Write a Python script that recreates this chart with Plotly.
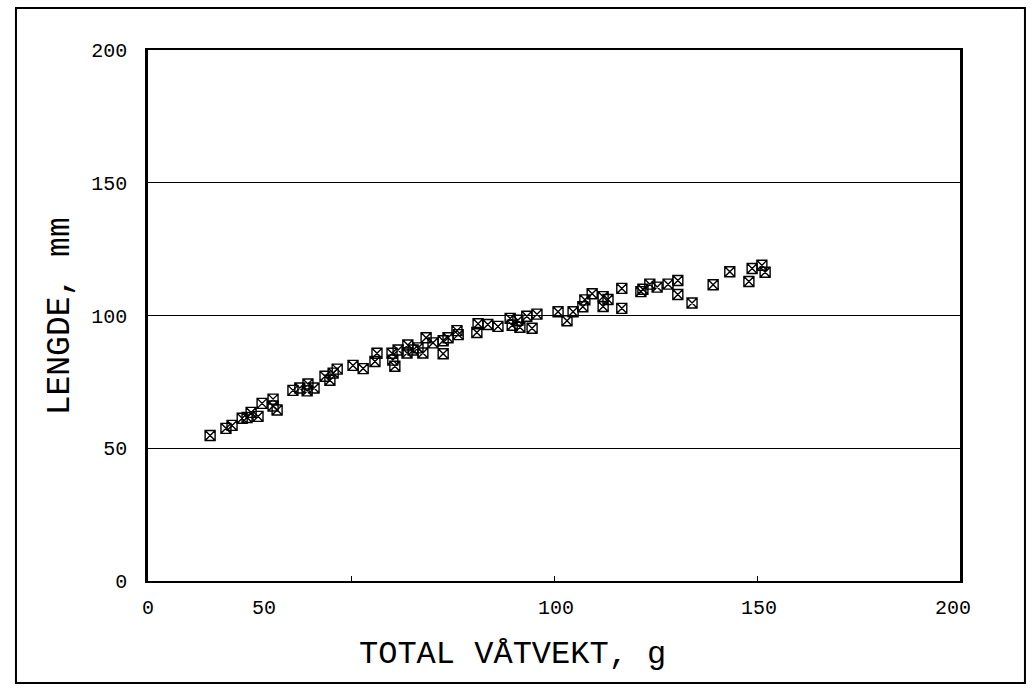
import plotly.graph_objects as go

# Data: total wet weight (g) vs length (mm)
weight_g = [15.3, 19.2, 20.7, 23.2, 24.4, 25.4, 27.1, 28.1, 30.8, 30.8, 31.8,
            35.7, 37.4, 39.2, 39.4, 40.9, 43.6, 44.8, 45.6, 46.6,
            50.5, 53.0, 55.9, 56.4, 60.1, 60.3, 60.8, 61.6, 64.0, 63.8, 65.3,
            66.5, 67.7, 68.5, 70.2, 72.7, 72.7, 73.9, 76.1, 76.4,
            81.0, 81.3, 83.7, 86.2, 89.2, 89.7, 91.1, 91.6, 93.3, 94.6, 95.8,
            101.0, 103.2, 104.7, 107.1, 107.6, 109.4, 112.1, 112.1, 113.3,
            116.7, 116.7, 121.4, 121.9, 123.6, 125.4, 128.1, 130.5, 130.5,
            134.0, 139.2, 143.3, 148.0, 148.8, 151.2, 152.0]
length_mm = [54.8, 57.5, 58.6, 61.3, 61.6, 63.5, 62.0, 66.9, 68.5, 65.9, 64.4,
             71.8, 72.7, 71.6, 74.2, 72.7, 77.1, 75.6, 78.3, 79.8,
             81.2, 80.0, 82.7, 85.8, 85.8, 83.2, 80.9, 87.0, 88.9, 85.9, 87.0,
             87.8, 85.9, 91.6, 89.7, 90.5, 85.6, 91.6, 94.3, 92.8,
             93.6, 96.9, 96.6, 95.9, 98.9, 96.3, 98.2, 95.6, 99.7, 95.2, 100.5,
             101.4, 98.0, 101.4, 103.3, 105.9, 108.2, 107.1, 103.4, 106.0,
             110.2, 102.7, 109.0, 109.9, 111.8, 110.7, 111.8, 113.2, 107.9,
             104.7, 111.6, 116.5, 112.8, 117.7, 118.9, 116.3]

x_tick_vals = [0, 50, 100, 150, 200]
x_tick_text = ["0", "50", "100", "150", "200"]
# where the x tick labels are printed in the reference (the "50" is offset)
x_tick_label_pos = [0, 28.6, 100.5, 150.5, 198.3]
y_tick_vals = [0, 50, 100, 150, 200]

FONT = "Courier New, Liberation Mono, monospace"

fig = go.Figure()
fig.add_trace(go.Scatter(
    x=weight_g, y=length_mm, mode="markers",
    marker=dict(symbol="square-x-open", size=10, color="black",
                line=dict(color="black", width=1.4)),
    showlegend=False, hoverinfo="x+y"))

fig.update_layout(
    width=1032, height=694,
    margin=dict(l=148, r=72, t=50, b=113),
    paper_bgcolor="white", plot_bgcolor="white",
    font=dict(family=FONT, color="black", size=20),
    xaxis=dict(range=[0, 200], tickvals=x_tick_vals, showticklabels=False,
               ticks="inside", ticklen=5, tickcolor="black", tickwidth=1,
               showgrid=False, zeroline=False,
               showline=True, linecolor="black", linewidth=2, mirror=True),
    yaxis=dict(range=[0, 200], tickvals=y_tick_vals, ticks="",
               showgrid=True, gridcolor="black", gridwidth=1,
               zeroline=False, ticklabelstandoff=14,
               tickfont=dict(family=FONT, size=20, color="black"),
               showline=True, linecolor="black", linewidth=2.5, mirror=True),
)

annotations = []
for pos, txt in zip(x_tick_label_pos, x_tick_text):
    annotations.append(dict(x=pos, y=0, xref="x", yref="paper", yshift=-27,
                            text=txt, showarrow=False, xanchor="center",
                            yanchor="middle",
                            font=dict(family=FONT, size=20, color="black")))
annotations.append(dict(x=0.4495, y=-0.1375, xref="paper", yref="paper",
                        text="TOTAL VÅTVEKT, g", showarrow=False,
                        xanchor="center", yanchor="middle",
                        font=dict(family=FONT, size=32, color="black")))
annotations.append(dict(x=-0.108, y=0.499, xref="paper", yref="paper",
                        text="LENGDE, mm", showarrow=False, textangle=-90,
                        xanchor="center", yanchor="middle",
                        font=dict(family=FONT, size=33, color="black")))
fig.update_layout(annotations=annotations)

# outer frame around the whole chart
fig.add_shape(type="rect", xref="paper", yref="paper",
              x0=-0.1626, x1=1.080, y0=-0.192, y1=1.079,
              line=dict(color="black", width=2), fillcolor="rgba(0,0,0,0)")

fig.write_html("out.html",
               config={"displayModeBar": False},
               post_script="document.body.style.margin='0';"
                           "document.body.style.overflow='hidden';")
